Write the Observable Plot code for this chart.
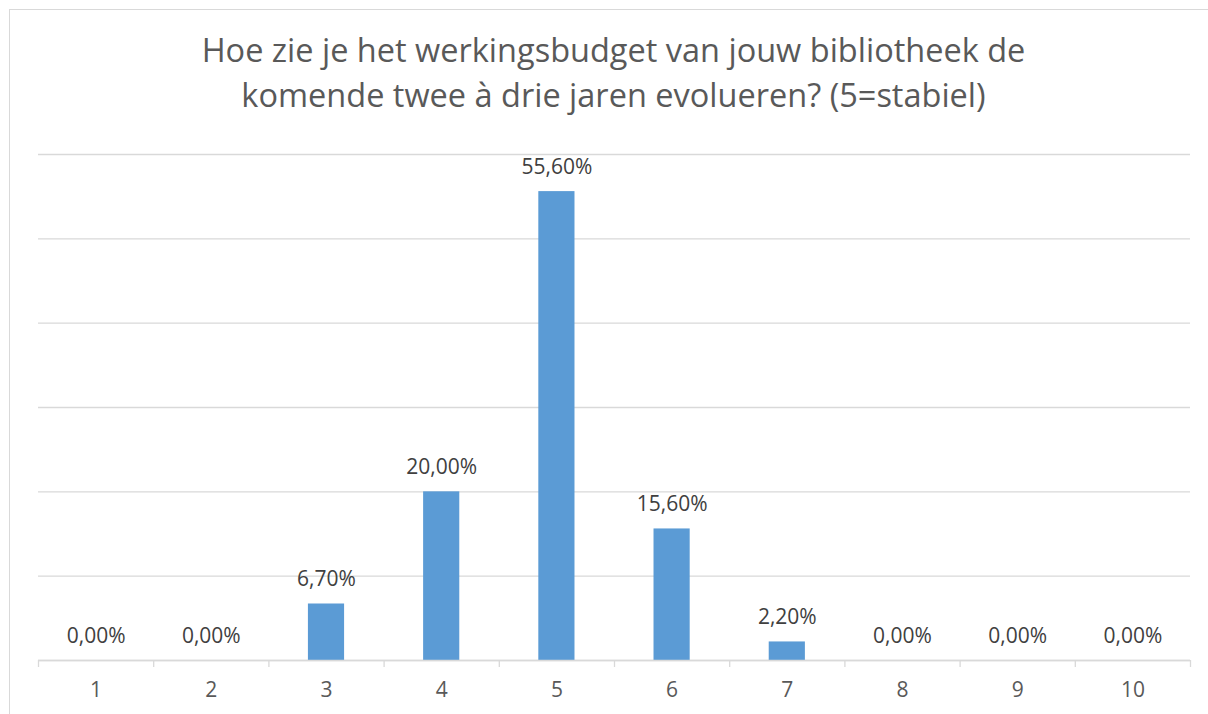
<!DOCTYPE html>
<html>
<head>
<meta charset="utf-8">
<script src="https://cdn.jsdelivr.net/npm/d3@7"></script>
<script src="https://cdn.jsdelivr.net/npm/@observablehq/plot@0.6"></script>
<style>
  html, body { margin: 0; padding: 0; background: #fff; }
  body { width: 1208px; height: 714px; overflow: hidden; position: relative; font-family: "Open Sans", sans-serif; }
  #frame { position: absolute; left: 9px; top: 9px; width: 1220px; height: 740px; border: 1px solid #d9d9d9; box-sizing: border-box; }
  #title { position: absolute; left: 0; top: 27px; width: 1227px; text-align: center; color: #595959; font-size: 32.5px; line-height: 45px; }
  #chart { position: absolute; left: 0; top: 130px; }
</style>
</head>
<body>
<div id="frame"></div>
<div id="title">Hoe zie je het werkingsbudget van jouw bibliotheek de<br>komende twee à drie jaren evolueren? (5=stabiel)</div>
<div id="chart"></div>
<script>
const categories = [1, 2, 3, 4, 5, 6, 7, 8, 9, 10];
const shares = [0.0, 0.0, 6.7, 20.0, 55.6, 15.6, 2.2, 0.0, 0.0, 0.0];
const gridValues = [0, 10, 20, 30, 40, 50, 60];

const data = categories.map((c, i) => ({cat: c, value: shares[i]}));
const boundaries = categories.map(c => c - 0.5).concat([categories[categories.length - 1] + 0.5]);
const fmt = v => v.toFixed(2).replace(".", ",") + "%";
const halfBar = 0.157;

const chart = Plot.plot({
  width: 1208,
  height: 584,
  marginTop: 24,
  marginBottom: 54,
  marginLeft: 38,
  marginRight: 18,
  style: {fontFamily: "Open Sans, sans-serif", color: "#595959", background: "transparent"},
  x: {domain: [0.5, 10.5], axis: null, label: null},
  y: {domain: [0, 60], axis: null, label: null},
  marks: [
    Plot.ruleY(gridValues, {y: d => d, stroke: "#d9d9d9", strokeWidth: 1.3}),
    Plot.rectY(data, {x1: d => d.cat - halfBar, x2: d => d.cat + halfBar, y1: 0, y2: "value", fill: "#5b9bd5"}),
    Plot.ruleY([0], {stroke: "#d9d9d9", strokeWidth: 1.3}),
    Plot.axisX({ticks: boundaries, tickSize: 7, tickFormat: () => "", label: null, stroke: "#d9d9d9", strokeWidth: 1.3}),
    Plot.axisX({ticks: categories, tickSize: 0, tickPadding: 22, label: null, tickFormat: d => String(d), fontSize: 21, fill: "#595959"}),
    Plot.text(data, {x: "cat", y: "value", text: d => fmt(d.value), dy: -18, lineAnchor: "bottom", fontSize: 21, fill: "#404040"})
  ]
});
document.getElementById("chart").appendChild(chart);
</script>
</body>
</html>
